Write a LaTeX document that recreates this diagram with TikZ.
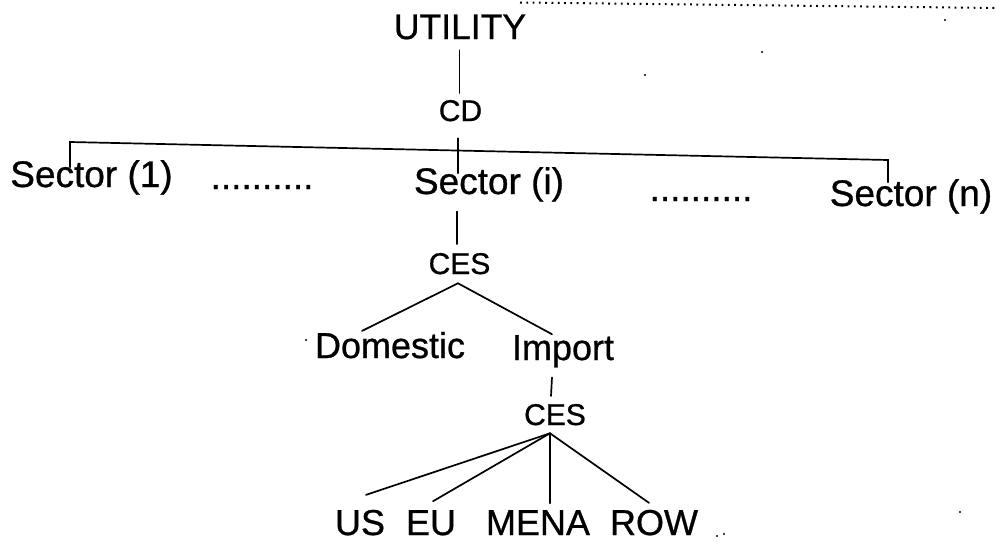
\documentclass[tikz,border=0pt]{standalone}
\usepackage{fontspec}
\setmainfont{Liberation Sans}[BoldFont={Liberation Sans}, BoldFeatures={FakeBold=0.8}]
\usetikzlibrary{calc}
\tikzset{
  lbl/.style={inner sep=0pt, outer sep=0pt, anchor=base, font=\fontsize{#1}{#1}\selectfont\bfseries},
  conn/.style={line width=1.7pt, line cap=round},
  speck/.style={fill=black, draw=none}
}
\begin{document}
\begin{tikzpicture}[x=1pt, y=-1pt]
\useasboundingbox (0,0) rectangle (996,541);
% labels
\node[lbl=35.5] (util) at (460,39) {UTILITY};
\node[lbl=30] (cd) at (460.5,121) {CD};
\node[lbl=37] (s1) at (91.5,187) {Sector (1)};
\node[lbl=37] (d1) at (262,189) {..........};
\node[lbl=37] (si) at (489,194) {Sector (i)};
\node[lbl=37] (d2) at (701,201) {..........};
\node[lbl=37] (sn) at (911,206) {Sector (n)};
\node[lbl=30] (ces1) at (459.5,274) {CES};
\node[lbl=36] (dom) at (390,358) {Domestic};
\node[lbl=36] (imp) at (563,360) {Import};
\node[lbl=30] (ces2) at (555,425) {CES};
\node[lbl=36] (us) at (360,535) {US};
\node[lbl=36] (eu) at (431,535) {EU};
\node[lbl=36] (mena) at (538,535) {MENA};
\node[lbl=36] (row) at (654,535) {ROW};
% connectors
\draw[conn] ($(util.south)+(-0.5,11)$) -- ($(util.south |- cd.north)+(-0.5,-7)$);
\coordinate (brl) at (70,142);
\coordinate (brr) at (888,160);
\draw[conn] ($(s1.north -| brl)+(0,7)$) -- (brl) -- (brr) -- ($(sn.north -| brr)+(0,3)$);
\draw[conn] ($(cd.south)+(-2.5,17)$) -- ($(cd.south |- si.north)+(-2.5,6)$);
\draw[conn] ($(ces1.north |- si.south)+(-2.5,10)$) -- ($(ces1.north)+(-2.5,-9)$);
\coordinate (apex1) at ($(ces1.south)+(-1.5,9)$);
\draw[conn] ($(dom.north)+(-28,-1)$) -- (apex1) -- ($(imp.north)+(-11,-1)$);
\draw[conn] ($(imp.south)+(-11,10)$) -- ($(ces2.north)+(-4,-8)$);
\coordinate (apex2) at ($(ces2.south)+(-5,8)$);
\draw[conn] (apex2) -- ($(us.north)+(6,-15)$);
\draw[conn] (apex2) -- ($(eu.north)+(2,-9)$);
\draw[conn] (apex2) -- ($(mena.north)+(12,-7)$);
\draw[conn] (apex2) -- ($(row.north)+(-5,-7)$);
% scan artefacts
\draw[line width=2pt, dash pattern=on 1.8pt off 4.5pt] (520,2.5) -- (996,8);
\fill[speck] (762,52) circle (1.2);
\fill[speck] (945,20) circle (1.2);
\fill[speck] (645,75) circle (1.2);
\fill[speck] (306,340) circle (1.2);
\fill[speck] (717,536) circle (1.2);
\fill[speck] (724,534) circle (1.2);
\fill[speck] (960,512) circle (1.2);
\end{tikzpicture}
\end{document}
